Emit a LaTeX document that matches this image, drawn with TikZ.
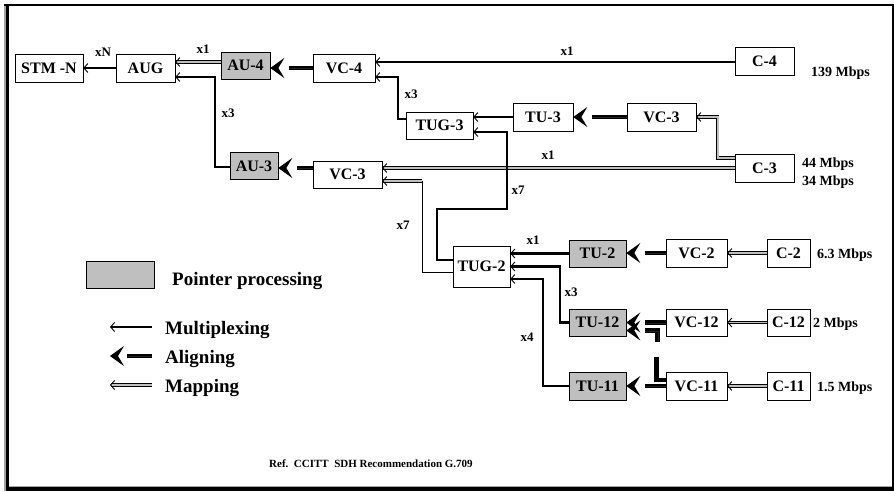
\documentclass[tikz,border=0pt]{standalone}
\usepackage{fontspec}
\setmainfont{Liberation Serif}
\usetikzlibrary{arrows.meta}
\begin{document}
\begin{tikzpicture}[x=1pt,y=-1pt,
  box/.style={draw=black, line width=0.6pt, fill=white, inner sep=0pt, minimum height=28pt, font=\bfseries\fontsize{16}{16}\selectfont},
  pp/.style={box, fill=gray!50},
  lbl/.style={font=\bfseries\fontsize{13}{13}\selectfont, inner sep=0pt},
  rate/.style={font=\bfseries\fontsize{14}{14}\selectfont, inner sep=0pt, anchor=base west},
  leg/.style={font=\bfseries\fontsize{19}{19}\selectfont, inner sep=0pt, anchor=base west},
  mux/.style={line width=2.4pt, -{Straight Barb[length=4pt,width=9pt,line width=0.9pt]}},
  mapg/.style={line width=0.9pt, double=gray!50, double distance=1.6pt, -{Straight Barb[length=4pt,width=9pt,line width=0.9pt]}},
  bar/.style={line width=4.5pt},
  algn/.style={bar, shorten >=19pt,
    postaction={draw=white, line width=0.01pt, shorten >=0pt,
      -{Stealth[color=black, fill=black, length=14pt, width=20pt, inset=6pt, line width=1pt]}}},
]
% background and frame
\fill[white] (0,0) rectangle (894,491);
\fill[gray!70] (4,4) rectangle (6,491);
\fill[black] (6,4) rectangle (9,491);
\fill[black] (4,4) rectangle (894,6);
\fill[black] (892,4) rectangle (894,491);
\fill[gray!70] (9,485.5) rectangle (892,487);
\fill[black] (6,487) rectangle (894,491);

% boxes
\node[box, minimum width=68pt] (stm) at (49,68) {STM -N};
\node[box, minimum width=59pt] (aug) at (145.5,68) {AUG};
\node[pp, minimum width=49pt, minimum height=27pt] (au4) at (245.5,65.5) {AU-4};
\node[box, minimum width=62pt] (vc4) at (344,68) {VC-4};
\node[pp, minimum width=48pt, minimum height=27pt] (au3) at (254,166) {AU-3};
\node[box, minimum width=69pt, minimum height=27pt] (vc3a) at (347.5,174.5) {VC-3};
\node[box, minimum width=67pt, minimum height=27pt] (tug3) at (439.5,125.5) {TUG-3};
\node[box, minimum width=60pt] (tu3) at (543,117) {TU-3};
\node[box, minimum width=69pt] (vc3b) at (661.5,117) {VC-3};
\node[box, minimum width=59pt] (c4) at (764.5,61) {C-4};
\node[box, minimum width=59pt] (c3) at (764.5,168) {C-3};
\node[box, minimum width=57pt, minimum height=41pt] (tug2) at (481.5,266.5) {TUG-2};
\node[pp, minimum width=57pt, minimum height=27pt] (tu2) at (597.5,253.5) {TU-2};
\node[box, minimum width=61pt] (vc2) at (696.5,253) {VC-2};
\node[box, minimum width=43pt] (c2) at (788.5,253) {C-2};
\node[pp, minimum width=57pt, minimum height=27pt] (tu12) at (597.5,322.5) {TU-12};
\node[box, minimum width=61pt, minimum height=27pt] (vc12) at (696.5,322.5) {VC-12};
\node[box, minimum width=43pt, minimum height=27pt] (c12) at (788.5,322.5) {C-12};
\node[pp, minimum width=57pt] (tu11) at (597.5,386) {TU-11};
\node[box, minimum width=61pt] (vc11) at (696.5,386) {VC-11};
\node[box, minimum width=43pt] (c11) at (788.5,386) {C-11};

% rates
\node[rate] (r139) at (811,76) {139 Mbps};
\node[rate] (r44) at (802,167) {44 Mbps};
\node[rate] (r34) at (802,185) {34 Mbps};
\node[rate] (r63) at (817,258) {6.3 Mbps};
\node[rate] (r2) at (813,327) {2 Mbps};
\node[rate] (r15) at (817,391) {1.5 Mbps};

% multiplicity labels
\node[lbl] (lxN) at (103,52) {xN};
\node[lbl] (lx1a) at (203,49) {x1};
\node[lbl] (lx3a) at (228,113) {x3};
\node[lbl] (lx1b) at (567,51) {x1};
\node[lbl] (lx3b) at (411,94) {x3};
\node[lbl] (lx1c) at (548,155) {x1};
\node[lbl] (lx7a) at (518,190) {x7};
\node[lbl] (lx7b) at (403,225) {x7};
\node[lbl] (lx1d) at (533,240) {x1};
\node[lbl] (lx3c) at (571,292) {x3};
\node[lbl] (lx4) at (527,337) {x4};

% connectors
\draw[mux] (aug.west) -- (stm.east);
\draw[mapg] ([yshift=3.5pt]au4.west) -- ([yshift=3.5pt]au4.west -| aug.east);
\draw[mux] ([yshift=-1pt]au3.west) -- ++(-15,0) |- ([yshift=-9pt]aug.east);
\draw[algn] (vc4.west) -- (vc4.west -| au4.east);
\draw[algn] ([yshift=6.5pt]vc3a.west) -- ([yshift=6.5pt]vc3a.west -| au3.east);
\draw[mux, line width=1.8pt] ([yshift=-1pt]c4.west) -- ([yshift=-1pt]c4.west -| vc4.east);
\draw[mux] ([yshift=6.5pt]tug3.west) -- ++(-8,0) |- ([yshift=-9pt]vc4.east);
\draw[mux] (tu3.west) -- (tu3.west -| tug3.east);
\draw[algn] (vc3b.west) -- (tu3.east);
\draw[mapg] ([yshift=10pt]c3.west) -- ++(-17,0) |- (vc3b.east);
\draw[mapg] (c3.west) -- (c3.west -| vc3a.east);

\coordinate (k1) at (437,209);
\coordinate (k2) at (507,209);
\draw[mux] ([yshift=6.5pt]tug2.west) -| (k1) -- (k2) |- ([yshift=-6.5pt]tug3.east);
\coordinate (k3) at (422,181);
\draw[line width=1pt] ([yshift=-5.5pt]tug2.west) -| (k3);
\draw[mapg] (k3) -- (k3 -| vc3a.east);

\draw[mux] (tu2.west) -- (tu2.west -| tug2.east);
\draw[mux] (tu12.west) -- ++(-9,0) |- (tug2.east);
\draw[mux] (tu11.west) -- ++(-26,0) |- ([yshift=-12.5pt]tug2.east);

\draw[algn] (vc2.west) -- (vc2.west -| tu2.east);
\draw[mapg] (c2.west) -- (vc2.east);
\draw[algn] (vc12.west) -- (tu12.east);
\draw[mapg] (c12.west) -- (vc12.east);
\draw[algn] (vc11.west) -- (tu11.east);
\draw[mapg] (c11.west) -- (vc11.east);
\draw[bar] ([yshift=6pt]vc11.west) -- ++(-9,0) -- ++(0,-23);
\coordinate (g1) at (657.5,342);
\draw[algn] (g1) |- ([yshift=-8pt]tu12.east);

% legend
\node[pp, minimum width=68pt, minimum height=27pt] (lgbox) at (120,274.5) {};
\node[leg] (lgpp) at (172,285) {Pointer processing};
\node[leg] (lgmux) at (165,334) {Multiplexing};
\node[leg] (lgal) at (165,363) {Aligning};
\node[leg] (lgmap) at (165,392) {Mapping};
\coordinate (a1) at (152,327);
\coordinate (a2) at (152,356);
\coordinate (a3) at (152,385);
\draw[mux] (a1) -- ++(-42,0);
\draw[algn, shorten >=17pt] (a2) -- ++(-42,0);
\draw[mapg] (a3) -- ++(-42,0);

\node[font=\bfseries\fontsize{11}{11}\selectfont, anchor=base west, inner sep=0pt] (ref) at (269,467) {Ref.\ \ CCITT\ \ SDH Recommendation G.709};
\end{tikzpicture}
\end{document}
